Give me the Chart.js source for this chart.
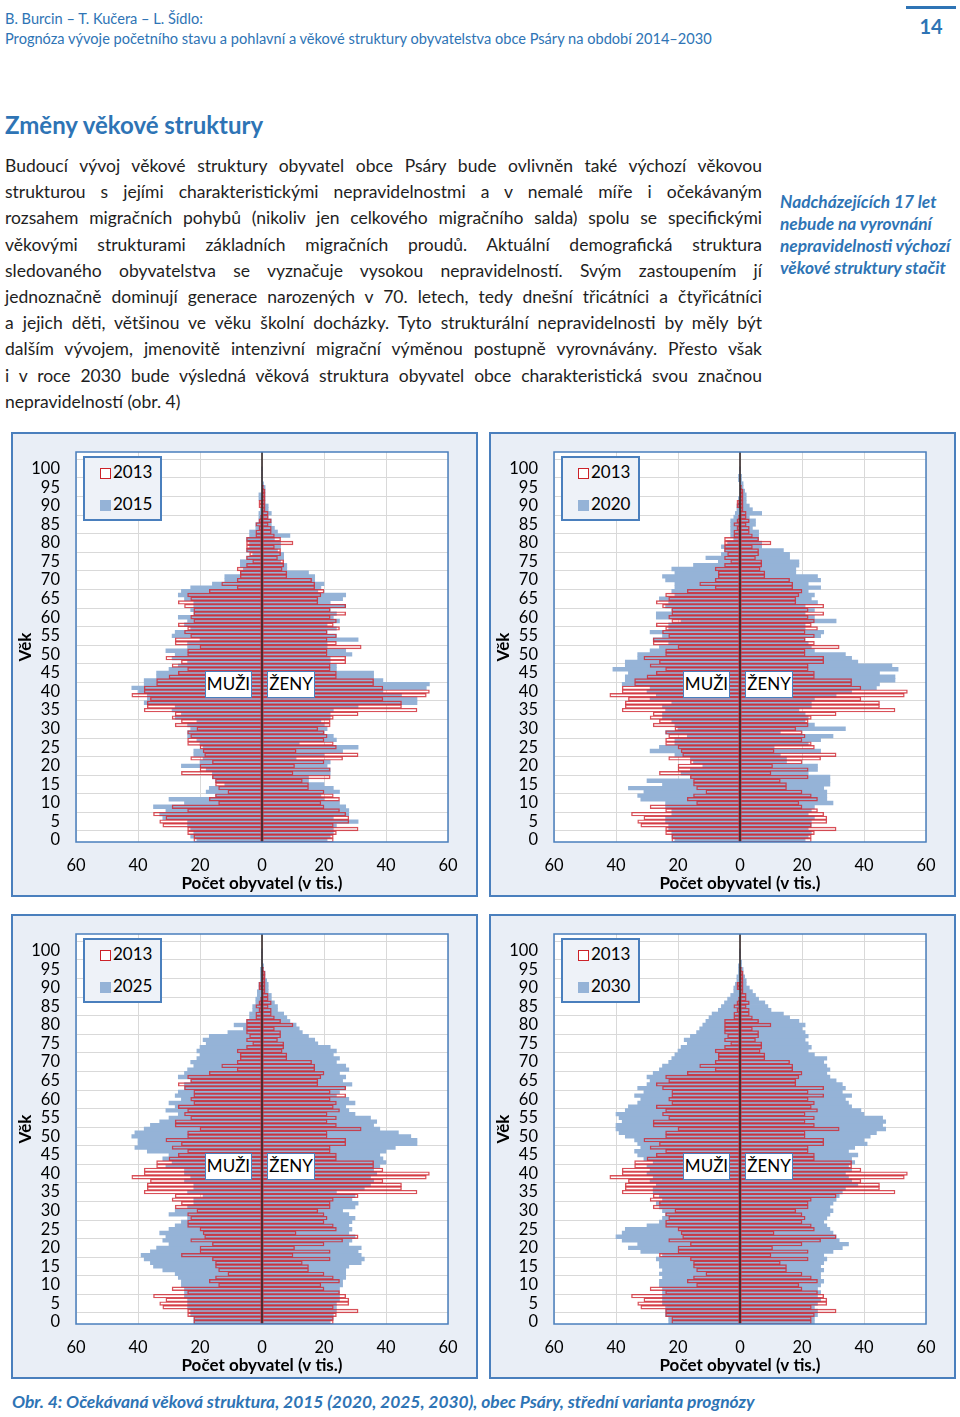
<!DOCTYPE html>
<html lang="cs">
<head>
<meta charset="utf-8">
<title>Změny věkové struktury – Psáry</title>
<script src="https://cdn.jsdelivr.net/npm/chart.js@4.4.1/dist/chart.umd.min.js"></script>
<style>
  html, body { margin: 0; padding: 0; background: #fff; }
  body { position: relative; width: 960px; height: 1417px; overflow: hidden; font-family: Lato, "Open Sans", sans-serif; color: #1a1a1a; }
  .abs { position: absolute; white-space: nowrap; }
  .blue { color: #2e74b5; }
  #authors { left: 5px; top: 9px; font-size: 14.6px; line-height: 19px; }
  #subtitle { left: 5px; top: 29px; font-size: 14.6px; line-height: 19px; }
  #pageno { left: 906px; width: 50px; top: 6px; border-top: 3px solid #2e74b5; text-align: center; font-weight: bold; font-size: 20px; line-height: 24px; padding-top: 5px; }
  #heading { left: 5px; top: 110px; font-size: 24px; font-weight: bold; line-height: 30px; }
  #para { position: absolute; left: 5px; top: 153px; width: 757px; font-size: 17.5px; line-height: 26.2px; color: #1e1e1e; }
  #para div { text-align: justify; text-align-last: justify; }
  #para div.last { text-align-last: left; }
  #side { position: absolute; left: 780px; top: 191px; font-size: 17.3px; line-height: 22px; font-weight: bold; font-style: italic; white-space: nowrap; }
  #caption { left: 12px; top: 1391px; font-size: 17.4px; line-height: 22px; font-weight: bold; font-style: italic; }
  .box { position: absolute; width: 467px; height: 465px; box-sizing: border-box; border: 2px solid #4a7fbd; background: #e9eef6; }
  .box canvas { position: absolute; left: 0; top: 0; }
  .legend { position: absolute; left: 70px; top: 22px; width: 79px; height: 65px; box-sizing: border-box; border: 2px solid #4a7fbd; background: #eef2f8; font-size: 17px; color: #000; }
  .legend .item { position: absolute; left: 15px; height: 20px; line-height: 20px; white-space: nowrap; }
  .legend .sw { display: inline-block; width: 11px; height: 11px; box-sizing: border-box; margin-right: 2px; vertical-align: -1px; }
  .tag { position: absolute; top: 237px; height: 27px; box-sizing: border-box; border: 1.5px solid #4a7fbd; background: #fff; font-size: 17px; line-height: 24px; text-align: center; color: #000; }
</style>
</head>
<body>
<div id="authors" class="abs blue">B. Burcin – T. Kučera – L. Šídlo:</div>
<div id="subtitle" class="abs blue">Prognóza vývoje početního stavu a pohlavní a věkové struktury obyvatelstva obce Psáry na období 2014–2030</div>
<div id="pageno" class="abs blue">14</div>

<div id="heading" class="abs blue">Změny věkové struktury</div>

<div id="para">
  <div>Budoucí vývoj věkové struktury obyvatel obce Psáry bude ovlivněn také výchozí věkovou</div>
  <div>strukturou s jejími charakteristickými nepravidelnostmi a v nemalé míře i očekávaným</div>
  <div>rozsahem migračních pohybů (nikoliv jen celkového migračního salda) spolu se specifickými</div>
  <div>věkovými strukturami základních migračních proudů. Aktuální demografická struktura</div>
  <div>sledovaného obyvatelstva se vyznačuje vysokou nepravidelností. Svým zastoupením jí</div>
  <div>jednoznačně dominují generace narozených v 70. letech, tedy dnešní třicátníci a čtyřicátníci</div>
  <div>a jejich děti, většinou ve věku školní docházky. Tyto strukturální nepravidelnosti by měly být</div>
  <div>dalším vývojem, jmenovitě intenzivní migrační výměnou postupně vyrovnávány. Přesto však</div>
  <div>i v roce 2030 bude výsledná věková struktura obyvatel obce charakteristická svou značnou</div>
  <div class="last">nepravidelností (obr. 4)</div>
</div>

<div id="side" class="blue">Nadcházejících 17 let<br>nebude na vyrovnání<br>nepravidelnosti výchozí<br>věkové struktury stačit</div>

<div class="box" id="b1" style="left:11px; top:432px;"></div>
<div class="box" id="b2" style="left:489px; top:432px;"></div>
<div class="box" id="b3" style="left:11px; top:914px;"></div>
<div class="box" id="b4" style="left:489px; top:914px;"></div>

<div id="caption" class="abs blue">Obr. 4: Očekávaná věková struktura, 2015 (2020, 2025, 2030), obec Psáry, střední varianta prognózy</div>

<script>
// ages 0..104 on the category axis (labels shown every 5 years)
const ages = Array.from({ length: 105 }, (_, i) => i);

const baseYear = '2013';
const projYears = ['2015', '2020', '2025', '2030'];

// 2013 – males / females by age 0..100
const males2013 = [
  22, 22, 24, 24, 32, 33, 31, 35, 24, 29,
  14, 17, 15, 11, 14, 15, 15, 16, 26, 20,
  20, 16, 23, 18.5, 19, 20, 24, 24, 23, 24,
  21, 28, 26, 29, 28, 38, 37, 37, 36, 42,
  38, 38, 34, 34, 30, 27, 24, 29, 26, 31,
  24, 24, 20, 28, 28, 23, 25, 24, 27, 22,
  23, 22, 22, 25, 27, 23, 24, 17, 8, 13,
  8, 7, 7, 8, 5, 3, 5, 4, 5, 5,
  5, 5, 2, 2, 1, 2, 1, 0.5, 0, 0,
  1, 1, 0, 0, 0, 0, 0, 0, 0, 0, 0
];
const females2013 = [
  23, 23, 24, 31, 23, 28, 28, 27, 25, 20,
  19, 25, 23, 20, 15, 15, 13, 22, 10, 22,
  10.5, 20, 26, 31, 11, 24, 23, 20, 21, 20,
  18, 22, 22, 23, 31, 50, 45, 45, 39, 53,
  54, 39, 36, 36, 24, 24, 22, 22, 27, 27,
  21, 21, 32, 24, 21, 24, 21, 25, 23, 24,
  22, 27, 22, 27, 18, 18, 19, 20, 17, 17,
  16, 8, 8, 6.5, 7, 7, 5, 6, 6, 4,
  10, 6, 4, 3, 3, 2, 3, 2, 2, 1,
  1, 1, 1, 1, 1, 0.5, 0, 0, 0, 0, 0
];

// projections
const males2015 = [
  21, 23, 22, 23, 24, 24, 32, 33, 31, 35,
  25, 30, 15, 18, 17, 12, 15, 16, 16, 18,
  26, 20, 19, 22, 22, 19, 20, 21, 24, 24,
  23, 24, 21, 28, 26, 29, 28, 38, 37, 37,
  40, 42, 38, 38, 34, 34, 30, 27, 24, 29,
  28, 31, 24, 24, 20, 29, 28, 23, 25, 24,
  27, 22, 23, 22, 22, 25, 27, 26, 23, 16,
  12, 12, 7, 6, 7, 7, 5, 3, 5, 4,
  4, 5, 4, 4, 2, 2, 1, 1, 1, 0.5,
  0, 0, 1, 1, 0, 0, 0, 0, 0, 0, 0
];
const females2015 = [
  21, 22, 23, 23, 24, 31, 23, 28, 28, 27,
  25, 20, 19, 25, 23, 20, 15, 15, 22, 22,
  21, 22, 11, 20, 26, 31, 12, 24, 23, 20,
  21, 20, 19, 22, 22, 23, 31, 50, 50, 45,
  39, 53, 54, 39, 36, 36, 24, 24, 22, 22,
  29, 27, 21, 21, 31, 24, 21, 24, 21, 25,
  23, 24, 22, 27, 22, 26, 27, 18, 19, 20,
  17, 17, 15, 8, 8, 6, 7, 7, 5, 6,
  6, 4, 9, 5, 4, 3, 3, 2, 3, 2,
  2, 1, 1, 1, 1, 1, 0.5, 0, 0, 0, 0
];
const males2020 = [
  21, 22, 22, 23, 23, 24, 24, 22, 22, 24,
  24, 32, 33, 31, 36, 25, 30, 16, 19, 16,
  12, 15, 16, 21, 29, 26, 21, 21, 17, 24,
  20, 21, 22, 25, 25, 24, 25, 22, 29, 27,
  30, 29, 38, 37, 37, 36, 41, 37, 37, 33,
  33, 29, 26, 23, 28, 25, 29, 23, 23, 19,
  27, 27, 22, 24, 23, 26, 21, 22, 21, 21,
  24, 25, 21, 22, 15, 7, 11, 6, 5, 6,
  4, 2, 3, 3, 3, 3, 3, 2, 1.5, 1,
  1, 0.5, 0.5, 0, 0, 0, 0, 0.5, 0.5, 0, 0
];
const females2020 = [
  21, 22, 23, 22, 23, 23, 24, 22, 23, 24,
  30, 28, 28, 28, 27, 29, 29, 29, 22, 25,
  25, 15, 15, 13, 26, 11, 22, 26, 30, 13,
  34, 24, 21, 22, 21, 19, 23, 23, 24, 31,
  36, 44, 45, 50, 50, 45, 51, 49, 38, 36,
  34, 24, 23, 22, 21, 26, 27, 21, 21, 31,
  24, 21, 24, 21, 25, 23, 24, 22, 26, 22,
  26, 25, 18, 18, 19, 19, 16, 16, 14, 7,
  7, 6, 6, 6, 4, 5, 5, 3, 7, 4,
  3, 2, 2, 2, 1.5, 1, 1, 0.5, 0.5, 0, 0
];
const males2025 = [
  22, 22, 23, 23, 24, 24, 24, 25, 25, 25,
  26, 26, 27, 28, 32, 35, 36, 38, 39, 36,
  34, 30, 32, 31, 33, 30, 28, 26, 24, 30,
  28, 24, 22, 22, 19, 24, 22, 22, 25, 23,
  25, 25, 31, 29, 32, 30, 37, 41, 40, 40,
  42, 41, 38, 36, 33, 30, 27, 31, 28, 30,
  26, 28, 27, 25, 25, 23, 27, 25, 24, 22,
  23, 21, 20, 21, 20, 18, 19, 17, 11, 6,
  9, 5, 4, 4, 3, 3, 2, 2, 1.5, 1.5,
  1, 1, 0.5, 0.5, 0.5, 0.5, 0, 0, 0, 0, 0
];
const females2025 = [
  22, 23, 23, 24, 24, 24, 25, 25, 25, 25,
  26, 26, 27, 27, 27, 28, 32, 33, 32, 31,
  32, 28, 29, 30, 28, 29, 28, 29, 30, 28,
  26, 30, 31, 29, 30, 24, 33, 35, 36, 35,
  37, 36, 38, 40, 39, 38, 40, 43, 50, 50,
  48, 44, 38, 36, 37, 35, 30, 28, 27, 30,
  28, 24, 25, 27, 29, 26, 27, 25, 28, 27,
  24, 25, 23, 24, 22, 18, 17, 15, 13, 12,
  11, 9, 8, 7, 5, 5, 4, 3, 3, 2,
  2, 2, 1.5, 1, 1, 0.5, 0.5, 0, 0, 0, 0
];
const males2030 = [
  23, 23, 24, 24, 24, 25, 25, 25, 25, 25,
  26, 26, 25, 26, 25, 26, 26, 27, 25, 32,
  36, 33, 38, 40, 38, 37, 30, 26, 25, 24,
  25, 26, 27, 25, 26, 28, 28, 27, 29, 28,
  30, 29, 30, 28, 31, 33, 34, 32, 33, 34,
  37, 39, 40, 40, 38, 39, 40, 37, 36, 33,
  32, 34, 31, 33, 30, 29, 30, 28, 26, 25,
  23, 22, 21, 20, 19, 17, 18, 16, 14, 13,
  12, 11, 10, 9, 7, 6, 5, 4, 3, 2,
  2, 1.5, 1, 1, 0.5, 0.5, 0.5, 0, 0, 0, 0
];
const females2030 = [
  24, 24, 25, 25, 24, 25, 26, 25, 26, 25,
  26, 27, 26, 26, 27, 26, 27, 28, 27, 30,
  33, 35, 32, 31, 30, 29, 28, 27, 28, 29,
  30, 29, 30, 31, 32, 33, 34, 38, 36, 35,
  34, 36, 35, 37, 36, 38, 35, 37, 41, 40,
  42, 44, 47, 46, 47, 46, 40, 39, 36, 35,
  34, 36, 33, 34, 33, 31, 29, 28, 29, 28,
  27, 28, 24, 22, 23, 22, 21, 22, 21, 20,
  21, 19, 16, 14, 10, 9, 8, 6, 5, 4,
  3, 2, 2, 1.5, 1, 1, 0.5, 0.5, 0, 0, 0
];

const projMales = [males2015, males2020, males2025, males2030];
const projFemales = [females2015, females2020, females2025, females2030];

const RED = 'rgba(208, 36, 46, 0.8)';
const BLUE = '#95b3d7';
const FRAME = '#4a7fbd';

Chart.defaults.font.family = 'Lato, "Open Sans", sans-serif';
Chart.defaults.color = '#000';

// white plot area, blue frame round it, dark zero line over the bars
const plotFrame = {
  id: 'plotFrame',
  beforeDraw(chart) {
    const { ctx, chartArea: a } = chart;
    ctx.save();
    ctx.fillStyle = '#fff';
    ctx.fillRect(a.left, a.top, a.width, a.height);
    ctx.restore();
  },
  afterDatasetsDraw(chart) {
    const { ctx, chartArea: a } = chart;
    const x0 = chart.scales.x.getPixelForValue(0);
    ctx.save();
    ctx.strokeStyle = '#2a1c1c';
    ctx.lineWidth = 1.5;
    ctx.beginPath();
    ctx.moveTo(x0, a.top);
    ctx.lineTo(x0, a.bottom);
    ctx.stroke();
    ctx.strokeStyle = FRAME;
    ctx.lineWidth = 1.5;
    ctx.strokeRect(a.left, a.top, a.width, a.height);
    ctx.restore();
  }
};

const neg = arr => arr.map(v => -v);

function pyramid(boxId, k) {
  const box = document.getElementById(boxId);
  const canvas = document.createElement('canvas');
  canvas.width = 463;
  canvas.height = 461;
  canvas.style.width = '463px';
  canvas.style.height = '461px';
  box.appendChild(canvas);

  const barBase = { grouped: false, barPercentage: 1, categoryPercentage: 1 };
  const chart = new Chart(canvas.getContext('2d'), {
    type: 'bar',
    data: {
      labels: ages,
      datasets: [
        { ...barBase, label: baseYear, data: neg(males2013), backgroundColor: 'rgba(255,255,255,0)', borderColor: RED, borderWidth: 0.75, borderSkipped: false, order: 0 },
        { ...barBase, label: baseYear, data: females2013, backgroundColor: 'rgba(255,255,255,0)', borderColor: RED, borderWidth: 0.75, borderSkipped: false, order: 0 },
        { ...barBase, label: projYears[k], data: neg(projMales[k]), backgroundColor: BLUE, borderWidth: 0, order: 1 },
        { ...barBase, label: projYears[k], data: projFemales[k], backgroundColor: BLUE, borderWidth: 0, order: 1 }
      ]
    },
    options: {
      indexAxis: 'y',
      responsive: false,
      animation: false,
      devicePixelRatio: 1,
      events: [],
      layout: { padding: { left: 0, right: 28, top: 18, bottom: 0 } },
      plugins: { legend: { display: false }, tooltip: { enabled: false } },
      scales: {
        x: {
          min: -60, max: 60,
          ticks: { stepSize: 20, padding: 14, font: { size: 16.5 }, callback: v => Math.abs(v) },
          grid: { color: '#d9d9d9', drawTicks: false },
          border: { display: false },
          title: { display: true, text: 'Počet obyvatel (v tis.)', font: { size: 17, weight: 'bold' }, padding: { top: 0, bottom: 1 } },
          afterFit: s => { s.height = 53; }
        },
        y: {
          reverse: true,
          ticks: { autoSkip: false, padding: 16, font: { size: 16.5 }, callback: (v, i) => (ages[i] % 5 === 0 ? String(ages[i]) : null) },
          grid: { color: '#d9d9d9', drawTicks: false },
          border: { display: false },
          title: { display: true, text: 'Věk', font: { size: 17, weight: 'bold' }, padding: { top: 2, bottom: 0 } },
          afterFit: s => { s.width = 63; s.paddingTop = 0; s.paddingBottom = 0; }
        }
      }
    },
    plugins: [plotFrame]
  });

  // legend box inside the plot, built from the datasets
  const lg = document.createElement('div');
  lg.className = 'legend';
  const d0 = chart.data.datasets[0], d2 = chart.data.datasets[2];
  lg.innerHTML =
    '<div class="item" style="top:4px"><span class="sw" style="border:1.5px solid #cc2229;background:#fff"></span>' + d0.label + '</div>' +
    '<div class="item" style="top:36px"><span class="sw" style="background:' + d2.backgroundColor + '"></span>' + d2.label + '</div>';
  box.appendChild(lg);

  const m = document.createElement('div');
  m.className = 'tag'; m.style.left = '192px'; m.style.width = '47px'; m.textContent = 'MUŽI';
  const f = document.createElement('div');
  f.className = 'tag'; f.style.left = '254px'; f.style.width = '48px'; f.textContent = 'ŽENY';
  box.appendChild(m);
  box.appendChild(f);
}

pyramid('b1', 0);
pyramid('b2', 1);
pyramid('b3', 2);
pyramid('b4', 3);
</script>
</body>
</html>
